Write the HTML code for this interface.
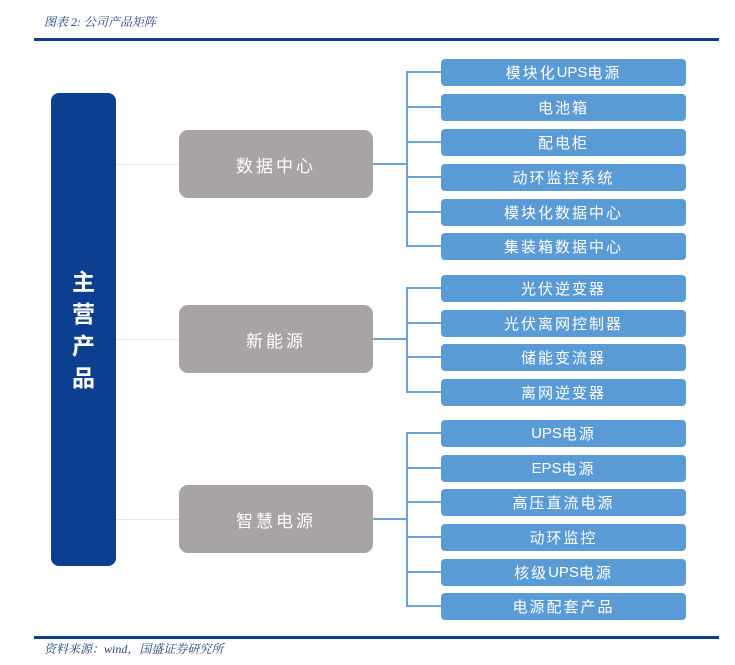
<!DOCTYPE html>
<html><head><meta charset="utf-8"><style>
body{margin:0;width:735px;height:665px;background:#fff;position:relative;overflow:hidden;font-family:"Liberation Sans","Noto Sans CJK SC",sans-serif}
.a{position:absolute}
.hdr{left:44px;top:13px;font-size:12px;color:#1f3f7f;font-style:italic;font-family:"Liberation Serif","Noto Serif CJK SC",serif}
.ln{left:34px;width:685px;height:3px;background:#0b3d91}
.main{left:51px;top:93px;width:65px;height:473px;background:#0d3f91;border-radius:8px;color:#fff;font-size:23px;font-weight:bold;display:flex;flex-direction:column;align-items:center;justify-content:center;line-height:32px}
.g{left:179px;width:194px;height:68px;background:#a8a4a3;border-radius:9px;color:#fff;font-size:17px;letter-spacing:3px;display:flex;align-items:center;justify-content:center}
.b{left:441px;width:245px;height:27px;background:#5b9bd5;border-radius:4px;color:#fff;font-size:15px;letter-spacing:2px;display:flex;align-items:center;justify-content:center}
.b span{letter-spacing:0}
.h{height:2px;background:#6aa3d8}
.v{width:2px;background:#6aa3d8}
.t{height:1px;background:#e8e8e8}
</style></head><body>
<div class="a hdr">图表 2:  公司产品矩阵</div>
<div class="a ln" style="top:38px"></div>
<div class="a main"><div>主</div><div>营</div><div>产</div><div>品</div></div>
<div class="a t" style="left:116px;width:63px;top:164px"></div>
<div class="a t" style="left:116px;width:63px;top:339px"></div>
<div class="a t" style="left:116px;width:63px;top:519px"></div>
<div class="a g" style="top:130px">数据中心</div>
<div class="a g" style="top:305px">新能源</div>
<div class="a g" style="top:485px">智慧电源</div>
<div class="a h" style="left:373px;width:35px;top:163px"></div>
<div class="a h" style="left:373px;width:35px;top:338px"></div>
<div class="a h" style="left:373px;width:35px;top:518px"></div>
<div class="a v" style="left:406px;top:72px;height:175px"></div>
<div class="a v" style="left:406px;top:288px;height:105px"></div>
<div class="a v" style="left:406px;top:433px;height:174px"></div>
<div id="r"></div>
<script>
var items=[[72,"模块化<span>UPS</span>电源"],[107,"电池箱"],[142,"配电柜"],[177,"动环监控系统"],[212,"模块化数据中心"],[246,"集装箱数据中心"],[288,"光伏逆变器"],[323,"光伏离网控制器"],[357,"储能变流器"],[392,"离网逆变器"],[433,"<span>UPS</span>电源"],[468,"<span>EPS</span>电源"],[502,"高压直流电源"],[537,"动环监控"],[572,"核级<span>UPS</span>电源"],[606,"电源配套产品"]];
var h="";items.forEach(function(i){h+='<div class="a h" style="left:406px;width:35px;top:'+(i[0]-1)+'px"></div><div class="a b" style="top:'+(i[0]-13)+'px">'+i[1]+'</div>';});
document.getElementById("r").innerHTML=h;
</script>
<div class="a ln" style="top:636px"></div>
<div class="a hdr" style="top:640px;font-size:12px">资料来源：wind，国盛证券研究所</div>
</body></html>
